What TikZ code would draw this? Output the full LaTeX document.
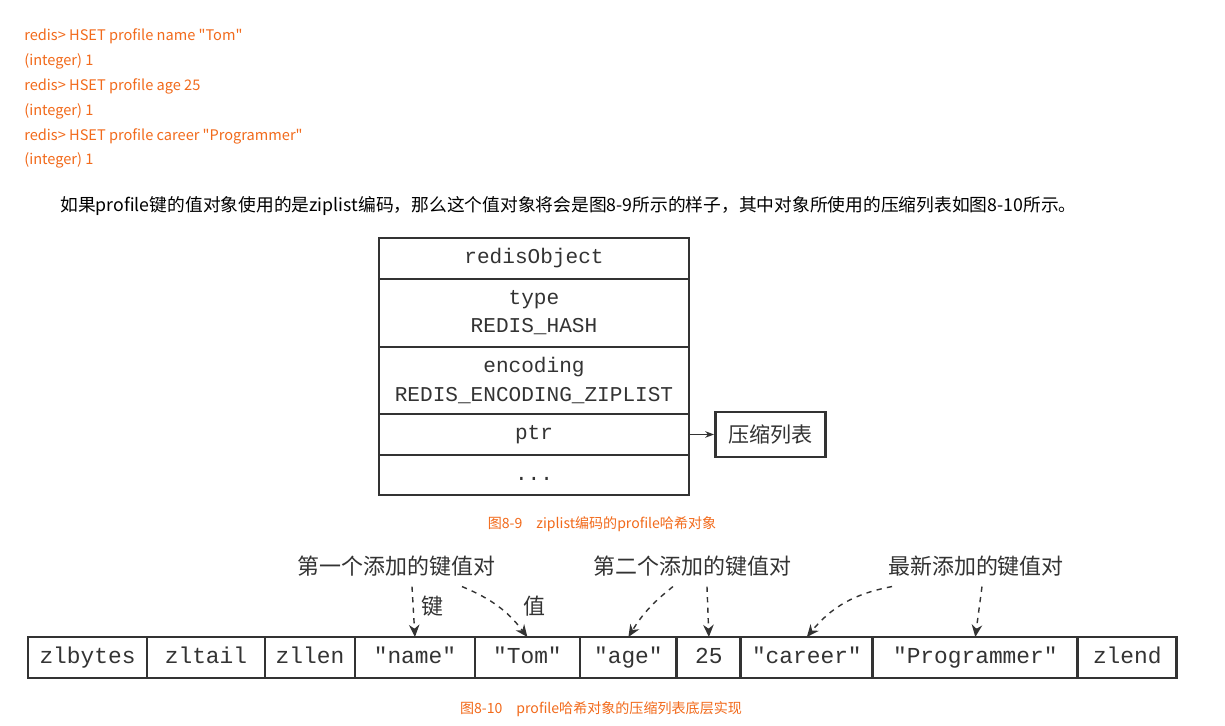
\documentclass[tikz,border=0pt]{standalone}
\usepackage{fontspec}
\setmainfont{Noto Sans CJK SC}
\setmonofont{Liberation Mono}
\usepackage{tikz}
\usetikzlibrary{arrows.meta, positioning}
\definecolor{note}{HTML}{F26A1B}
\definecolor{ink}{HTML}{333333}

\begin{document}
\begin{tikzpicture}[
    x=0.02cm, y=-0.02cm,
    every node/.style={text=ink},
    field/.style={rectangle, draw=ink, line width=1.6pt, outer sep=0pt, inner sep=0pt,
                  minimum width=6.2cm, align=center, font=\ttfamily\fontsize{12}{16}\selectfont},
    oneline/.style={text height=8.5pt, text depth=2.5pt},
    cell/.style={rectangle, draw=ink, line width=1.6pt, outer sep=0pt, inner sep=0pt,
                 minimum height=0.82cm, text height=9pt, text depth=2.7pt,
                 font=\ttfamily\fontsize{13}{15}\selectfont},
    tag/.style={inner sep=0pt, font=\fontsize{12.5}{14}\selectfont},
    caption/.style={text=note, font=\fontsize{8}{10}\selectfont},
    arr/.style={-{Stealth[length=5pt]}, draw=ink, line width=0.6pt},
    darr/.style={-{Stealth[length=7pt, width=6pt]}, draw=ink, line width=0.8pt, dashed},
]
    \fill[white] (0,0) rectangle (1225,725);
    \useasboundingbox (0,0) rectangle (1225,725);

    % Commands and text
    \node[anchor=west, align=left, inner sep=0pt, text=note, font=\fontsize{8.3}{14.2}\selectfont] (cmds) at (24,98.5)
        {redis> HSET profile name \textquotedbl Tom\textquotedbl\\(integer) 1\\redis> HSET profile age 25\\(integer) 1\\redis> HSET profile career \textquotedbl Programmer\textquotedbl\\(integer) 1};
    \node[anchor=west, inner sep=0pt, text=black, font=\fontsize{10.1}{12}\selectfont] (para) at (60,206)
        {如果profile键的值对象使用的是ziplist编码，那么这个值对象将会是图8-9所示的样子，其中对象所使用的压缩列表如图8-10所示。};

    % redisObject
    \node[field, oneline, minimum height=0.82cm] (robj) at (534,258.5) {redisObject};
    \node[field, minimum height=1.36cm, below=0pt of robj] (type) {type\\REDIS\_HASH};
    \node[field, minimum height=1.34cm, below=0pt of type] (enc) {encoding\\REDIS\_ENCODING\_ZIPLIST};
    \node[field, oneline, minimum height=0.82cm, below=0pt of enc] (ptr) {ptr};
    \node[field, oneline, minimum height=0.80cm, below=0pt of ptr] (more) {...};
    \node[rectangle, draw=ink, line width=1.6pt, minimum width=2.2cm, minimum height=0.9cm,
          font=\fontsize{12}{14}\selectfont, right=0.5cm of ptr] (zl) {压缩列表};
    \draw[arr] (ptr) -- (zl);
    \node[caption] (cap1) at (602,524) {图8-9\quad ziplist编码的profile哈希对象};

    % Ziplist
    \node[cell, minimum width=2.38cm] (zlbytes) at (87.5,657.5) {zlbytes};
    \node[cell, minimum width=2.36cm, right=0pt of zlbytes] (zltail) {zltail};
    \node[cell, minimum width=1.80cm, right=0pt of zltail] (zllen) {zllen};
    \node[cell, minimum width=2.40cm, right=0pt of zllen] (k1) {"name"};
    \node[cell, minimum width=2.10cm, right=0pt of k1] (v1) {"Tom"};
    \node[cell, minimum width=1.94cm, right=0pt of v1] (k2) {"age"};
    \node[cell, minimum width=1.28cm, right=0pt of k2] (v2) {25};
    \node[cell, minimum width=2.64cm, right=0pt of v2] (k3) {"career"};
    \node[cell, minimum width=4.10cm, right=0pt of k3] (v3) {"Programmer"};
    \node[cell, minimum width=1.98cm, right=0pt of v3] (zlend) {zlend};

    % Labels
    \node[tag] (first) at (396.5,566) {第一个添加的键值对};
    \node[tag] (second) at (692.5,566) {第二个添加的键值对};
    \node[tag] (latest) at (976,566) {最新添加的键值对};
    \node[tag] (keytag) at (432,606) {键};
    \node[tag] (valtag) at (534,606) {值};

    \draw[darr] ([xshift=0.31cm, yshift=-0.2cm]first.south) -- (k1.north);
    \draw[darr] ([xshift=1.31cm, yshift=-0.2cm]first.south) to[bend left=15] (v1.north);
    \draw[darr] ([xshift=-0.39cm, yshift=-0.2cm]second.south) to[bend right=10] (k2.north);
    \draw[darr] ([xshift=0.29cm, yshift=-0.2cm]second.south) -- (v2.north);
    \draw[darr] ([xshift=-1.68cm, yshift=-0.2cm]latest.south) to[bend right=20] (k3.north);
    \draw[darr] ([xshift=0.12cm, yshift=-0.2cm]latest.south) -- (v3.north);

    \node[caption] (cap2) at (601,709) {图8-10\quad profile哈希对象的压缩列表底层实现};
\end{tikzpicture}
\end{document}
